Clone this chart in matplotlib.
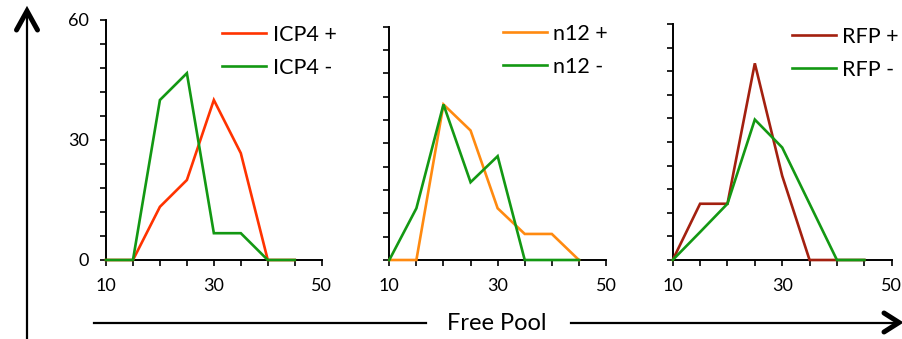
import numpy as np
import matplotlib
matplotlib.use("Agg")
import matplotlib.pyplot as plt
from matplotlib.lines import Line2D

# Free-pool bins shared by every panel
free_pool = [10, 15, 20, 25, 30, 35, 40, 45]

# Percent of cells per bin
icp4_pos = [0, 0, 13.3, 20.0, 40.0, 26.7, 0, 0]
icp4_neg = [0, 0, 40.0, 46.7, 6.7, 6.7, 0, 0]
n12_pos = [0, 0, 40.0, 33.3, 13.3, 6.7, 6.7, 0]
n12_neg = [0, 13.3, 40.0, 20.0, 26.7, 0, 0, 0]
rfp_pos = [0, 14.3, 14.3, 50.0, 21.4, 0, 0, 0]
rfp_neg = [0, 7.1, 14.3, 35.7, 28.6, 14.3, 0, 0]

series_labels = [("ICP4 +", "ICP4 -"), ("n12 +", "n12 -"), ("RFP +", "RFP -")]
x_ticks = [10, 15, 20, 25, 30, 35, 40, 45, 50]
x_tick_labels = ["10", "", "", "", "30", "", "", "", "50"]
y_ticks = list(range(0, 61, 6))
y_tick_labels = ["0", "", "", "", "", "30", "", "", "", "", "60"]
axis_title = "Free Pool"

W, H = 903, 339
plt.rcParams["font.family"] = ["Lato", "DejaVu Sans"]
fig = plt.figure(figsize=(W / 100, H / 100), dpi=100)


def fx(x):
    return x / W


def fy(y):
    return 1 - y / H


green = "#139813"
colors_pos = ["#FF3300", "#FF8A10", "#A3200F"]

# panel boxes in pixels: left, right, top, bottom
boxes = [(106, 321.7, 20, 260), (389.3, 606, 26.7, 260), (672.7, 891.7, 24, 260)]
data = [(icp4_pos, icp4_neg), (n12_pos, n12_neg), (rfp_pos, rfp_neg)]
legend_anchor = [(222, 25), (502.7, 24), (791.7, 27)]

for i, ((l, r, t, b), (pos, neg)) in enumerate(zip(boxes, data)):
    ax = fig.add_axes([fx(l), fy(b), (r - l) / W, (b - t) / H])
    ax.set_xlim(10, 50)
    ax.set_ylim(0, 60)
    for s in ("top", "right"):
        ax.spines[s].set_visible(False)
    for s in ("left", "bottom"):
        ax.spines[s].set_linewidth(1.4)
        ax.spines[s].set_color("black")
    ax.set_xticks(x_ticks)
    ax.set_xticklabels(x_tick_labels)
    ax.set_yticks(y_ticks)
    ax.set_yticklabels(y_tick_labels if i == 0 else [""] * len(y_ticks))
    ax.tick_params(axis="both", direction="out", length=4, width=1.2,
                   labelsize=13, colors="black")
    ax.tick_params(axis="x", pad=9)
    ax.tick_params(axis="y", pad=8)
    ax.patch.set_alpha(0)

    h1, = ax.plot(free_pool, pos, color=colors_pos[i], lw=1.9, clip_on=False,
                  zorder=3, solid_joinstyle="miter")
    h2, = ax.plot(free_pool, neg, color=green, lw=1.9, clip_on=False,
                  zorder=4, solid_joinstyle="miter")

    lx, ly = legend_anchor[i]
    ax.legend([h1, h2], list(series_labels[i]), loc="upper left",
              bbox_to_anchor=(fx(lx), fy(ly)), bbox_transform=fig.transFigure,
              frameon=False, fontsize=15.5, handlelength=2.05, handletextpad=0.3,
              borderpad=0, borderaxespad=0, labelspacing=0.6)

# axis title with a long arrow running through it
fig.text(fx(497), fy(323), axis_title, fontsize=17, ha="center", va="center")

arrow_lw = 1.6
fig.add_artist(Line2D([fx(94), fx(426)], [fy(322.5), fy(322.5)],
                      color="black", lw=arrow_lw))
fig.add_artist(Line2D([fx(571.5), fx(898)], [fy(322.5), fy(322.5)],
                      color="black", lw=arrow_lw))
fig.add_artist(Line2D([fx(884), fx(899), fx(884)], [fy(313), fy(322.5), fy(332)],
                      color="black", lw=3.6, solid_joinstyle="miter",
                      solid_capstyle="round"))

# vertical arrow on the left
fig.add_artist(Line2D([fx(27), fx(27)], [fy(339), fy(10)], color="black", lw=arrow_lw))
fig.add_artist(Line2D([fx(16.5), fx(27), fx(37.5)], [fy(30), fy(11), fy(30)],
                      color="black", lw=3.6, solid_joinstyle="miter",
                      solid_capstyle="round"))

fig.savefig("out.png", dpi=100)
